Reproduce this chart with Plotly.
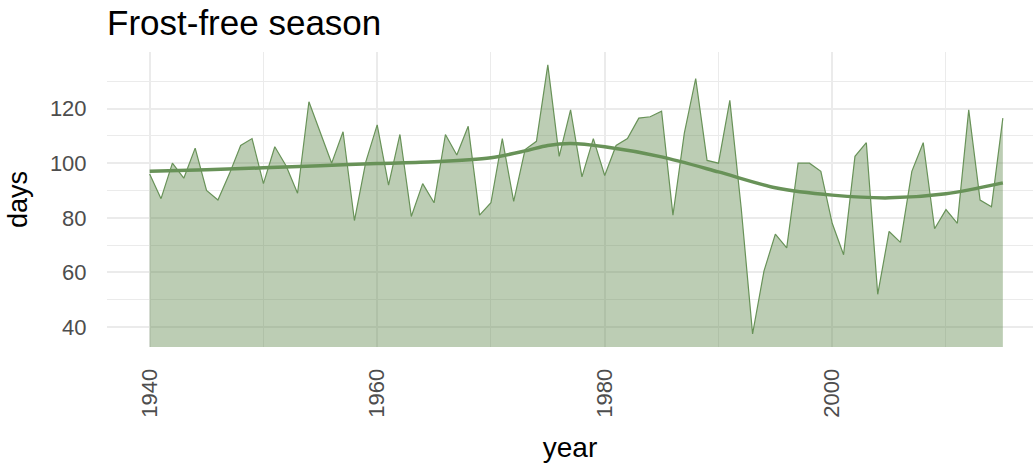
import plotly.graph_objects as go

# frost-free season length per year (days)
years = list(range(1940, 2016))
days = [
    96, 87, 100, 94.5, 105.5, 90, 86.5, 96, 106.5, 109,
    92.5, 106, 99, 89, 122.5, 111, 100, 111.5, 79, 100.5,
    114, 92, 110.5, 80.5, 92.5, 85.5, 110.5, 103, 113.5, 81,
    85.5, 109, 86, 105, 108, 136, 102.5, 119.5, 95, 109,
    95.5, 106.5, 109, 116.5, 117, 119, 81, 111, 131, 101,
    100, 123, 83.5, 37.5, 60.5, 74, 69, 100, 100, 97,
    78, 66.5, 102.5, 107.5, 52, 75, 71, 97, 107.5, 76,
    83, 78, 119.5, 86.5, 84, 116.5,
]

# smoothed trend
trend_years = [1940, 1945, 1950, 1955, 1960, 1965, 1970, 1973, 1975, 1977,
               1980, 1985, 1990, 1995, 2000, 2005, 2010, 2015]
trend_days = [97.0, 97.6, 98.3, 99.1, 99.9, 100.5, 102.0, 104.5, 106.5, 107.2,
              106.0, 102.3, 96.8, 91.0, 88.3, 87.3, 88.8, 92.8]

green = 'rgb(104,146,88)'
font = 'Liberation Sans, Arial, sans-serif'

fig = go.Figure()

# area under the yearly series
fig.add_trace(
    go.Scatter(
        x=years,
        y=days,
        mode='lines',
        fill='tozeroy',
        fillcolor='rgba(88,130,68,0.4)',
        line=dict(color=green, width=1.2),
        showlegend=False,
        hoverinfo='x+y'
    )
)

# smooth trend line
fig.add_trace(
    go.Scatter(
        x=trend_years,
        y=trend_days,
        mode='lines',
        line=dict(color=green, width=3.5, shape='spline', smoothing=0.8),
        showlegend=False,
        hoverinfo='skip'
    )
)

fig.update_layout(
    width=1033,
    height=466,
    margin=dict(l=107, r=0, t=52, b=119),
    paper_bgcolor='white',
    plot_bgcolor='white',
    font=dict(family=font, color='#4d4d4d'),
    title=dict(
        text='Frost-free season',
        x=0, xref='paper', xanchor='left',
        y=0.977, yref='container', yanchor='top',
        font=dict(family=font, size=35, color='black')
    ),
    xaxis=dict(
        range=[1936.25, 2017.65],
        tickmode='array',
        tickvals=[1940, 1960, 1980, 2000],
        tickangle=-90,
        tickfont=dict(size=22, color='#4d4d4d'),
        ticks='outside', ticklen=12, tickcolor='rgba(0,0,0,0)',
        showgrid=True, gridcolor='#ebebeb', gridwidth=2,
        minor=dict(tickvals=[1950, 1970, 1990, 2010], showgrid=True,
                   gridcolor='#ebebeb', gridwidth=1.2),
        zeroline=False, showline=False, automargin=False,
        title=dict(text='year', font=dict(size=28, color='black'), standoff=20)
    ),
    yaxis=dict(
        range=[32.7, 140.7],
        tickmode='array',
        tickvals=[40, 60, 80, 100, 120],
        tickfont=dict(size=22, color='#4d4d4d'),
        ticks='outside', ticklen=15, tickcolor='rgba(0,0,0,0)',
        showgrid=True, gridcolor='#ebebeb', gridwidth=2,
        minor=dict(tickvals=[50, 70, 90, 110, 130], showgrid=True,
                   gridcolor='#ebebeb', gridwidth=1.2),
        zeroline=False, showline=False, automargin=False,
        title=dict(text='days', font=dict(size=27, color='black'), standoff=14)
    ),
)

# drop the page's default body margin so the figure sits at the top-left
fig.write_html(
    "out.html",
    config={'displayModeBar': False},
    post_script="document.body.style.margin='0';"
)
